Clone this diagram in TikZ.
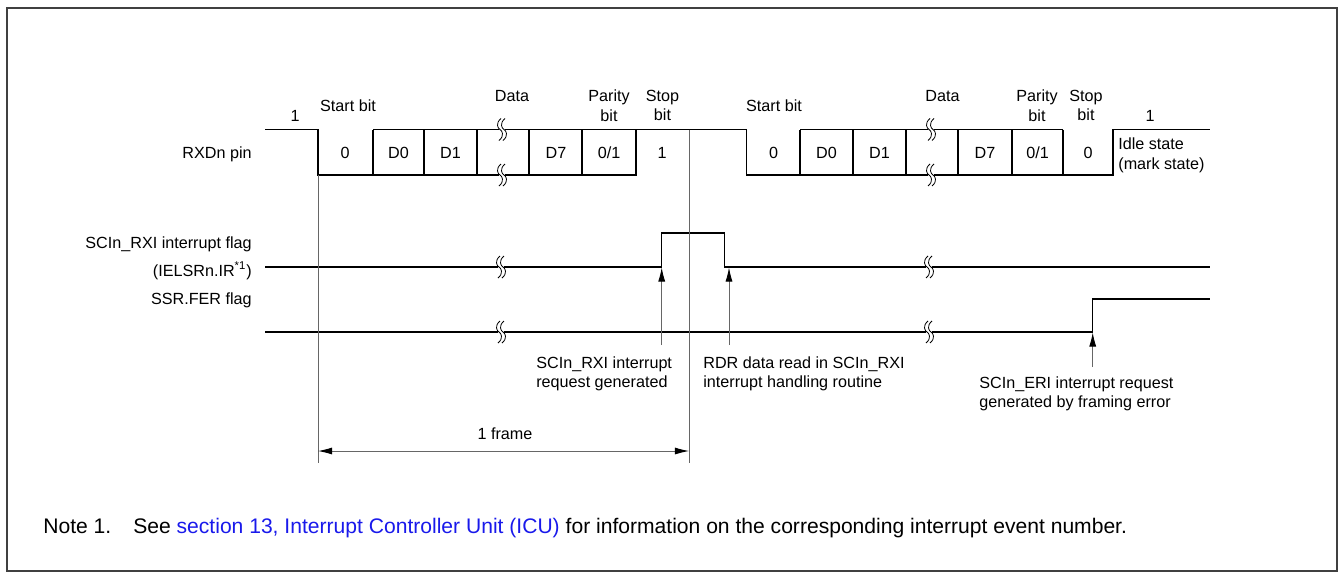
\documentclass[tikz,border=0pt]{standalone}
\usepackage{fontspec}
\setmainfont{Liberation Sans}
\usetikzlibrary{arrows.meta,positioning,calc}
\definecolor{linkblue}{RGB}{25,25,235}

% break mark on a signal line: #1 = x, #2 = y
\newcommand{\lnbreak}[2]{%
	\fill[white] (#1-1.5,#2-3) rectangle (#1+4.5,#2+3);
	\draw[line width=0.45pt] (#1+1,#2-11) .. controls (#1-5,#2-6) and (#1-2,#2-1) .. (#1,#2)
		.. controls (#1+2,#2+1) and (#1+5,#2+6) .. (#1-1,#2+11);
	\draw[line width=0.45pt] (#1+5,#2-11) .. controls (#1-1,#2-6) and (#1+2,#2-1) .. (#1+4,#2)
		.. controls (#1+6,#2+1) and (#1+9,#2+6) .. (#1+3,#2+11);
}

\begin{document}
\begin{tikzpicture}[
	x=0.02cm,y=-0.02cm,
	every node/.style={font=\fontsize{9.2}{11.2}\selectfont, inner sep=0pt},
	sig/.style={line width=0.75pt, black},
	guide/.style={line width=0.5pt, black!60},
	ptr/.style={line width=0.5pt, black!60, -{Latex[length=8pt,width=4pt,color=black]}},
	dim/.style={line width=0.5pt, black!60, {Latex[length=8pt,width=4pt,color=black]}-{Latex[length=8pt,width=4pt,color=black]}}
	]
	
	\useasboundingbox (0,0) rectangle (1341,576);
	\draw[line width=0.8pt, black!75] (7,8) rectangle (1337,571);
	
	% --------------------------
	% RXDn pin
	% --------------------------
	\draw[sig] (265,129.5) -| (318,175) -- (636,175) |- (746.7,129.5) |- (1113,175) |- (1210,129.5);
	\draw[sig] (373,129.5) -- (636,129.5);
	\draw[sig] (800,129.5) -- (1063,129.5);
	\foreach \xb in {373,424,477,529,582,636,800,853,906,958,1012,1063}
		\draw[sig] (\xb,129.5) -- (\xb,175);
	\lnbreak{500}{129.5}
	\lnbreak{500}{175}
	\lnbreak{929}{129.5}
	\lnbreak{929}{175}
	
	% bit values
	\foreach \xc/\tx in {345/0, 398.5/D0, 450.5/D1, 556/D7, 609/0\slash 1, 662/1,
		773.5/0, 826.5/D0, 879.5/D1, 985/D7, 1037.5/0\slash 1, 1088/0}
		\node at (\xc,153) {\tx};
	
	% field labels
	\node (one1) at (295,116) {1};
	\node (start1) at (348,106) {Start bit};
	\node (data1) at (512,96) {Data};
	\node[align=center] (par1) at (609,105.5) {Parity\\bit};
	\node[align=center] (stop1) at (662.5,105.5) {Stop\\bit};
	\node (start2) at (774,106) {Start bit};
	\node (data2) at (942.5,96) {Data};
	\node[align=center] (par2) at (1037,105.5) {Parity\\bit};
	\node[align=center] (stop2) at (1086,105.5) {Stop\\bit};
	\node (one2) at (1150,116) {1};
	\node[align=left, anchor=west] (idle) at (1118,155.5) {Idle state\\(mark state)};
	
	% --------------------------
	% RXI flag and FER flag
	% --------------------------
	\draw[sig] (265,267) -- (661.7,267) |- (724.3,233) |- (1210,267);
	\lnbreak{499}{267}
	\lnbreak{927}{267}
	\draw[sig] (265,332) -- (1092.7,332) |- (1210,299);
	\lnbreak{499}{332}
	\lnbreak{927}{332}
	
	% signal names
	\node[anchor=east] (rxdlbl) at (252,154) {RXDn pin};
	\node[anchor=east] (rxilbl) at (252,244) {SCIn\_RXI interrupt flag};
	\node[anchor=east] (irlbl) at (252,271) {(IELSRn.IR\textsuperscript{*1})};
	\node[anchor=east] (ferlbl) at (252,300) {SSR.FER flag};
	
	% --------------------------
	% frame guides
	% --------------------------
	\coordinate (g1top) at (318,175);
	\coordinate (g1bot) at (318,463);
	\coordinate (g2top) at (689,129.5);
	\coordinate (g2bot) at (689,463);
	\draw[guide] (g1top) -- (g1bot);
	\draw[guide] (g2top) -- (g2bot);
	\coordinate (fl) at (318,451);
	\coordinate (fr) at (689,451);
	\draw[dim] (fl) -- (fr);
	\node (frame) at (505,434) {1 frame};
	
	% --------------------------
	% event arrows
	% --------------------------
	\coordinate (rxitail) at (661.7,345);
	\coordinate (rxitip) at (661.7,267.5);
	\coordinate (rdrtail) at (729,345);
	\coordinate (rdrtip) at (729,267.5);
	\coordinate (eritail) at (1092.7,367);
	\coordinate (eritip) at (1092.7,332.5);
	\draw[ptr] (rxitail) -- (rxitip);
	\draw[ptr] (rdrtail) -- (rdrtip);
	\draw[ptr] (eritail) -- (eritip);
	
	\node[align=left, anchor=north west] (rxitxt) at (536,356) {SCIn\_RXI interrupt\\request generated};
	\node[align=left, anchor=north west] (rdrtxt) at (703,356) {RDR data read in SCIn\_RXI\\interrupt handling routine};
	\node[align=left, anchor=north west] (eritxt) at (979,376) {SCIn\_ERI interrupt request\\generated by framing error};
	
	% --------------------------
	% note
	% --------------------------
	\node[anchor=west, font=\fontsize{12}{14}\selectfont] (note) at (43,528)
		{Note 1.\hspace{12.5pt}See {\color{linkblue}section 13, Interrupt Controller Unit (ICU)} for information on the corresponding interrupt event number.};
	
\end{tikzpicture}
\end{document}
